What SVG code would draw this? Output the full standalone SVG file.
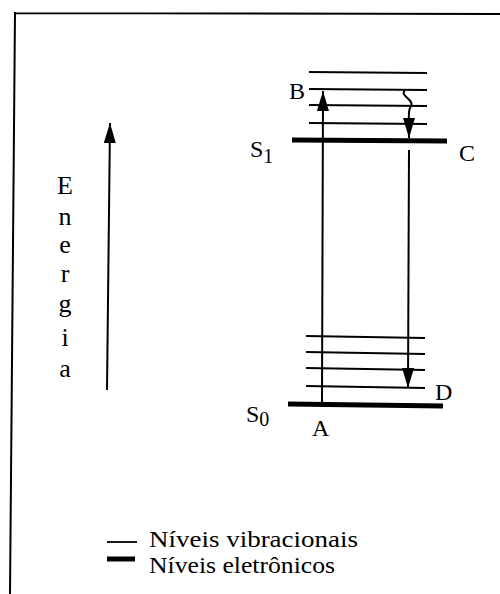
<svg xmlns="http://www.w3.org/2000/svg" width="500" height="594" viewBox="0 0 500 594">
<style>
.t{font-family:"Liberation Serif","Times New Roman",Times,serif;fill:#000}
.thin{stroke:#000;stroke-width:1.8;fill:none}
.thick{stroke:#000;stroke-width:5;fill:none}
.ln{stroke:#000;stroke-width:2;fill:none}
</style>
<defs>
<marker id="ah" markerUnits="userSpaceOnUse" markerWidth="20" markerHeight="12" refX="20" refY="6" orient="auto" viewBox="0 0 20 12">
<polygon points="0,0 20,6 0,12" fill="#000"/>
</marker>
</defs>
<rect width="500" height="594" fill="#fff"/>
<g id="frame">
<path class="ln" d="M15,13 L500,14 M15,12 L10,594"/>
</g>
<g id="energy-axis">
<line class="ln" x1="107" y1="390" x2="110" y2="123" marker-end="url(#ah)"/>
<g class="t" font-size="26" text-anchor="middle">
<text x="65" y="194">E</text>
<text x="65" y="225">n</text>
<text x="65" y="253">e</text>
<text x="65" y="282">r</text>
<text x="65" y="312">g</text>
<text x="65" y="346">i</text>
<text x="65" y="377">a</text>
</g>
</g>
<g id="S1-levels">
<line class="thin" x1="309" y1="72" x2="427" y2="73"/>
<line class="thin" x1="309" y1="89" x2="427" y2="90"/>
<line class="thin" x1="309" y1="105" x2="427" y2="106"/>
<line class="thin" x1="309" y1="123" x2="427" y2="124"/>
<line class="thick" x1="292" y1="140" x2="447" y2="141"/>
</g>
<g id="S0-levels">
<line class="thin" x1="306" y1="336" x2="425" y2="338"/>
<line class="thin" x1="306" y1="352" x2="425" y2="354"/>
<line class="thin" x1="306" y1="368" x2="425" y2="370"/>
<line class="thin" x1="306" y1="386" x2="425" y2="388"/>
<line class="thick" x1="288" y1="404" x2="443" y2="406"/>
</g>
<g id="labels" class="t" font-size="24">
<text x="289" y="99">B</text>
<text x="250" y="157">S<tspan font-size="20" dy="6">1</tspan></text>
<text x="459" y="161">C</text>
<text x="246" y="422">S<tspan font-size="20" dy="4">0</tspan></text>
<text x="312" y="436">A</text>
<text x="435" y="400">D</text>
</g>
<g id="connectors">
<line class="ln" x1="322" y1="404" x2="323" y2="91" marker-end="url(#ah)"/>
<path class="ln" d="M405,90 C399,96 415,100 411,106 C408,111 409,113 409,138" marker-end="url(#ah)"/>
<line class="ln" x1="409" y1="150" x2="408" y2="388" marker-end="url(#ah)"/>
</g>
<g id="legend">
<line class="thin" x1="107" y1="542" x2="137" y2="542"/>
<line class="thick" x1="107" y1="559" x2="135" y2="559"/>
<text class="t" x="149" y="547" font-size="24" textLength="209" lengthAdjust="spacingAndGlyphs">Níveis vibracionais</text>
<text class="t" x="149" y="573" font-size="24" textLength="186" lengthAdjust="spacingAndGlyphs">Níveis eletrônicos</text>
</g>
</svg>
